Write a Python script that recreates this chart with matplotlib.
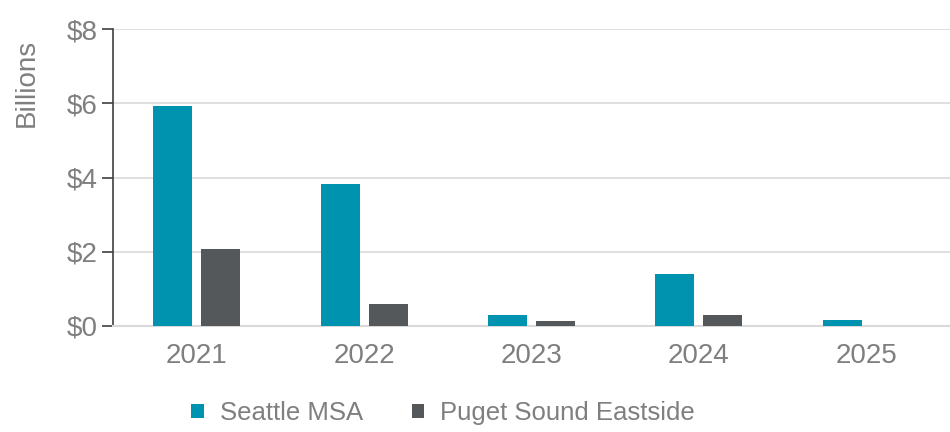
import numpy as np
import matplotlib
matplotlib.use("Agg")
import matplotlib.pyplot as plt

years = ["2021", "2022", "2023", "2024", "2025"]
seattle = [5.93, 3.83, 0.30, 1.40, 0.17]
eastside = [2.07, 0.59, 0.13, 0.30, 0.01]
yticks = [0, 2, 4, 6, 8]
ytick_labels = ["$0", "$2", "$4", "$6", "$8"]

TEAL = "#0093AF"
DARK = "#54585A"
TXT = "#7F7F7F"
FS = 20

plt.rcParams["font.family"] = ["Liberation Sans", "DejaVu Sans"]

fig = plt.figure(figsize=(9.5, 4.32), dpi=100)
ax = fig.add_axes([113 / 950, 1 - 326 / 432, 837 / 950, 297 / 432])

x = np.arange(len(years))
w = 0.233
off = 0.143
ax.bar(x - off, seattle, w, color=TEAL, label="Seattle MSA", zorder=3)
ax.bar(x + off, eastside, w, color=DARK, label="Puget Sound Eastside", zorder=3)

ax.set_xlim(-0.5, len(years) - 0.5)
ax.set_ylim(0, 8)
ax.set_xticks(x)
ax.set_xticklabels(years)
ax.set_yticks(yticks)
ax.set_yticklabels(ytick_labels)
ax.tick_params(axis="x", length=0, pad=12, labelsize=FS, labelcolor=TXT)
ax.tick_params(axis="y", length=8, width=1.2, color="#404040", pad=3,
               labelsize=FS, labelcolor=TXT)
ax.grid(axis="y", color="#D9D9D9", linewidth=1.2, zorder=0)

for s in ["top", "right"]:
    ax.spines[s].set_visible(False)
ax.spines["left"].set_color("#404040")
ax.spines["left"].set_linewidth(1.2)
ax.spines["bottom"].set_color("#D9D9D9")
ax.spines["bottom"].set_linewidth(1.5)

ax.set_ylabel("Billions", fontsize=FS, color=TXT)
ax.yaxis.set_label_coords(-0.087, 0.82)

ax.legend(loc="center", bbox_to_anchor=(443 / 950, 1 - 413 / 432),
          bbox_transform=fig.transFigure, ncol=2, frameon=False,
          fontsize=18.5, labelcolor=TXT, handlelength=0.5, handleheight=0.5,
          columnspacing=1.9, handletextpad=0.6)

fig.savefig("out.png", dpi=100)
